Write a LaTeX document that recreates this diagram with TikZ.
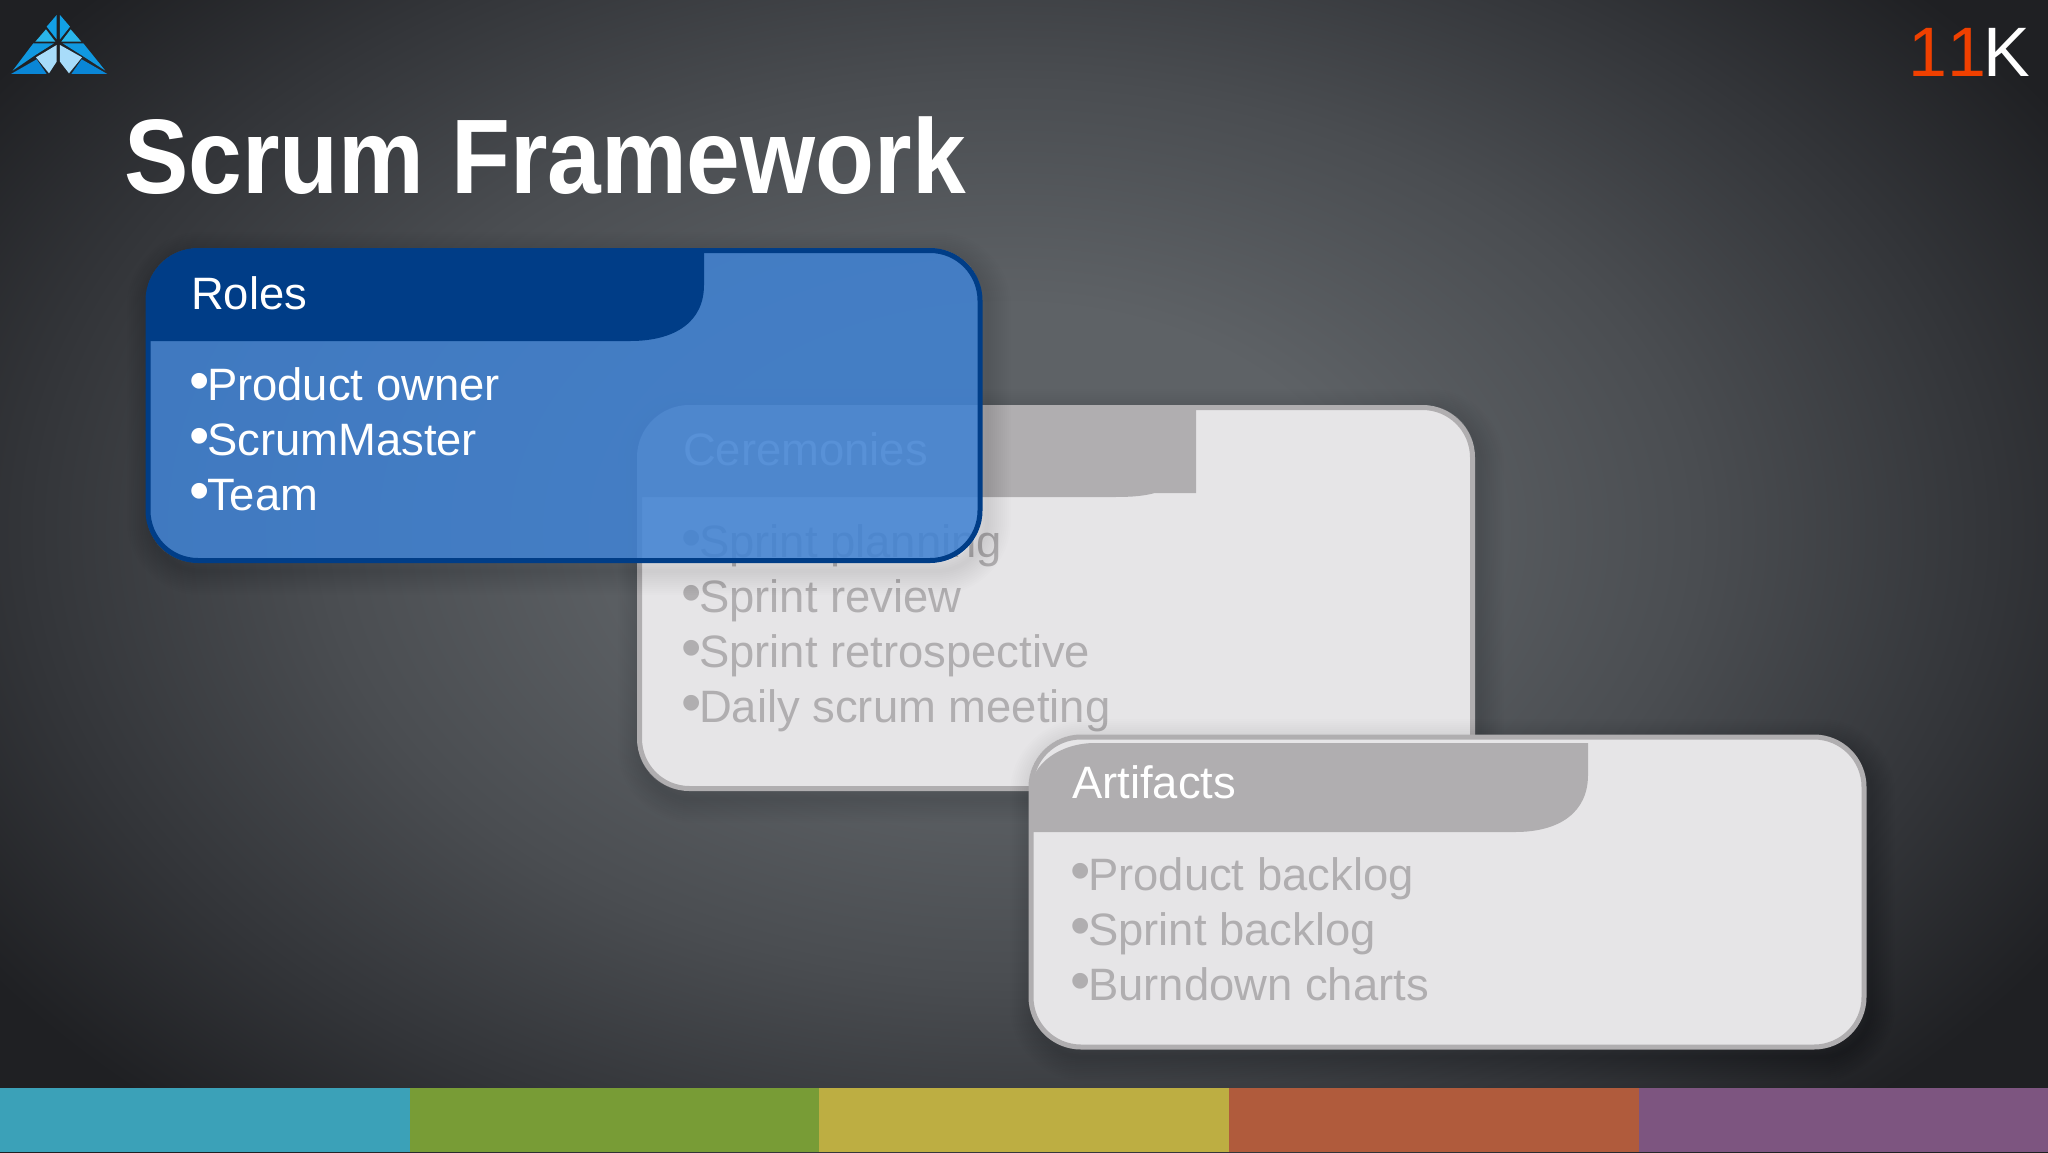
\documentclass[tikz,border=0pt]{standalone}
\usepackage{fontspec}
\setmainfont{Liberation Sans}
\usetikzlibrary{calc}
\definecolor{bordergray}{HTML}{B0AEB0}
\definecolor{cardgray}{HTML}{E6E5E7}
\definecolor{hdrblue}{HTML}{003D87}
\definecolor{cardblue}{HTML}{4182D2}
\definecolor{redk}{HTML}{F04000}
\definecolor{bgA}{HTML}{5E6266}
\definecolor{bgB}{HTML}{4A4D51}
\definecolor{bgC}{HTML}{333539}
\definecolor{bgD}{HTML}{1F2023}
\pgfdeclareradialshading{slidebg}{\pgfpoint{0bp}{0bp}}{%
 color(0bp)=(bgA);color(7bp)=(bgA);color(14bp)=(bgB);color(20bp)=(bgC);color(25bp)=(bgD);color(50bp)=(bgD)}
\newcommand{\boxshadow}[4]{%
 \begin{scope}[even odd rule]
 \clip (0,0) rectangle (2048,1152) [rounded corners=50pt] (#1,#2) rectangle (#3,#4);
 \foreach \wd in {4,8,...,48}{
  \draw[black,line width=\wd pt,draw opacity=.009,rounded corners=50pt] (#1+5,#2+8) rectangle (#3+5,#4+8);
 }
 \end{scope}}
\tikzset{
 card/.style={draw=bordergray,fill=cardgray,line width=5pt,rounded corners=50pt,inner sep=0pt},
 bluecard/.style={draw=hdrblue,fill=cardblue,fill opacity=.88,draw opacity=1,line width=5pt,rounded corners=50pt,inner sep=0pt},
 hdrgray/.style={fill=bordergray},
 hdrb/.style={fill=hdrblue},
 headtext/.style={anchor=base west,inner sep=0pt,text=white,font=\fontsize{45.4}{50}\selectfont},
 itemgray/.style={anchor=base west,inner sep=0pt,text=bordergray,font=\fontsize{45.4}{50}\selectfont},
 itemwhite/.style={anchor=base west,inner sep=0pt,text=white,font=\fontsize{45.4}{50}\selectfont}
}
\newcommand{\blt}{{\fontsize{58}{58}\selectfont •}\kern-2.4pt}
\begin{document}
\begin{tikzpicture}[x=1pt,y=-1pt]
\useasboundingbox (0,0) rectangle (2048,1152);
% background
\begin{scope}
\clip (0,0) rectangle (2048,1152);
\path[shading=slidebg] (1010-1230,530-800) rectangle (1010+1230,530+800);
\end{scope}
% stripes
\fill[fill={rgb,255:red,59;green,161;blue,184}] (0,1088) rectangle (410,1152);
\fill[fill={rgb,255:red,120;green,156;blue,54}] (410,1088) rectangle (819,1152);
\fill[fill={rgb,255:red,189;green,174;blue,66}] (819,1088) rectangle (1229,1152);
\fill[fill={rgb,255:red,176;green,91;blue,60}] (1229,1088) rectangle (1639,1152);
\fill[fill={rgb,255:red,125;green,85;blue,128}] (1639,1088) rectangle (2048,1152);
% logo
\begin{scope}[x=.3333pt,y=-.3333pt]
\fill[fill={rgb,255:red,18;green,160;blue,230}] (170,45) -- (170,118) -- (140,80) -- cycle;
\fill[fill={rgb,255:red,18;green,160;blue,230}] (180,45) -- (180,118) -- (210,80) -- cycle;
\fill[fill={rgb,255:red,42;green,182;blue,234}] (138,88) -- (166,125) -- (106,125) -- cycle;
\fill[fill={rgb,255:red,42;green,182;blue,234}] (212,88) -- (184,125) -- (244,125) -- cycle;
\fill[fill={rgb,255:red,16;green,152;blue,224}] (100,130) -- (162,130) -- (105,166) -- (38,212) -- cycle;
\fill[fill={rgb,255:red,16;green,152;blue,224}] (250,130) -- (188,130) -- (245,166) -- (316,212) -- cycle;
\fill[fill={rgb,255:red,10;green,134;blue,214}] (33,222) -- (110,178) -- (140,222) -- cycle;
\fill[fill={rgb,255:red,10;green,134;blue,214}] (322,222) -- (245,178) -- (214,222) -- cycle;
\fill[fill={rgb,255:red,168;green,220;blue,250}] (108,172) -- (170,135) -- (170,185) -- (147,220) -- cycle;
\fill[fill={rgb,255:red,168;green,220;blue,250}] (246,172) -- (180,135) -- (180,185) -- (207,220) -- cycle;
\end{scope}
% 11K
\node[anchor=base west,inner sep=0pt,font=\fontsize{70}{70}\selectfont\addfontfeature{Kerning=Off},text=white] (elevenk) at (1908,76) {\textcolor{redk}{11}\kern-3pt K};
% title
\node[anchor=base west,inner sep=0pt,text=white,font=\fontsize{106}{110}\selectfont\bfseries] (title) at (124,193) {\scalebox{.91}[1]{Scrum Framework}};
% Ceremonies card
\boxshadow{637}{405}{1475}{791}
\node[card,minimum width=833pt,minimum height=381pt] (cardB) at (1056,598) {};
\fill[hdrgray] (639,497) -- (639,462) .. controls (639,430) and (660,408) .. (690,408) -- (1196,408) -- (1196,493) -- (1155,493) .. controls (1140,497) and (1125,497) .. (1110,497) -- cycle;
\node[headtext] (headB) at (683,465) {Ceremonies};
\node[itemgray] (b1) at (681,557) {\blt Sprint planning};
\node[itemgray] (b2) at (681,612) {\blt Sprint review};
\node[itemgray] (b3) at (681,667) {\blt Sprint retrospective};
\node[itemgray] (b4) at (681,722) {\blt Daily scrum meeting};
% Artifacts card
\boxshadow{1029}{735}{1866}{1049}
\node[card,minimum width=833pt,minimum height=310pt] (cardC) at (1447.5,892) {};
\fill[hdrgray] (1031,832) -- (1031,790) .. controls (1031,764) and (1060,743) .. (1095,743) -- (1588,743) -- (1588,775) .. controls (1588,812) and (1560,832) .. (1515,832) -- cycle;
\node[headtext] (headC) at (1072,798) {Artifacts};
\node[itemgray] (c1) at (1070,890) {\blt Product backlog};
\node[itemgray] (c2) at (1070,945) {\blt Sprint backlog};
\node[itemgray] (c3) at (1070,1000) {\blt Burndown charts};
% Roles card
\boxshadow{146}{248}{982}{563}
\node[bluecard,minimum width=832pt,minimum height=310pt] (cardA) at (564,405.5) {};
\fill[hdrb] (148,341) -- (148,298) .. controls (148,268) and (170,249) .. (196,249) -- (704,249) -- (704,285) .. controls (704,322) and (675,341) .. (630,341) -- cycle;
\node[headtext] (headA) at (191,309) {Roles};
\node[itemwhite] (a1) at (189,400) {\blt Product owner};
\node[itemwhite] (a2) at (189,455) {\blt ScrumMaster};
\node[itemwhite] (a3) at (189,510) {\blt Team};
\end{tikzpicture}
\end{document}
